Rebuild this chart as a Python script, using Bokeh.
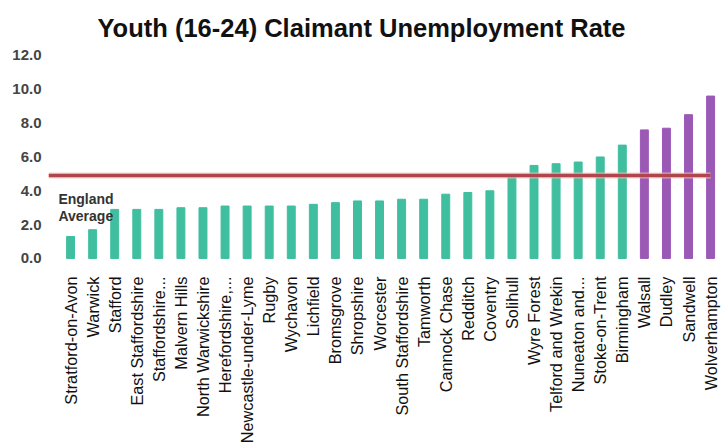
import math
from bokeh.plotting import figure
from bokeh.models import Range1d, FixedTicker, PrintfTickFormatter, Label, Title, ColumnDataSource
from bokeh.embed import file_html
from bokeh.resources import INLINE

areas = [
    "Stratford-on-Avon", "Warwick", "Stafford", "East Staffordshire", "Staffordshire...",
    "Malvern Hills", "North Warwickshire", "Herefordshire,...", "Newcastle-under-Lyme",
    "Rugby", "Wychavon", "Lichfield", "Bromsgrove", "Shropshire", "Worcester",
    "South Staffordshire", "Tamworth", "Cannock Chase", "Redditch", "Coventry",
    "Solihull", "Wyre Forest", "Telford and Wrekin", "Nuneaton and...", "Stoke-on-Trent",
    "Birmingham", "Walsall", "Dudley", "Sandwell", "Wolverhampton",
]
rates = [
    1.3, 1.7, 2.9, 2.9, 2.9,
    3.0, 3.0, 3.1, 3.1,
    3.1, 3.1, 3.2, 3.3, 3.4, 3.4,
    3.5, 3.5, 3.8, 3.9, 4.0,
    4.8, 5.5, 5.6, 5.7, 6.0,
    6.7, 7.6, 7.7, 8.5, 9.6,
]
black_country = ["Walsall", "Dudley", "Sandwell", "Wolverhampton"]
england_average = 4.9
y_ticks = [0, 2, 4, 6, 8, 10, 12]
title_text = "Youth (16-24) Claimant Unemployment Rate"

TEAL = "#3fbf9f"
PURPLE = "#9b59b6"
FONT = "Liberation Sans"

idx = list(range(len(areas)))
colors = [PURPLE if a in black_country else TEAL for a in areas]
src = ColumnDataSource(dict(x=idx, top=rates, color=colors))

p = figure(width=724, height=447, output_backend="svg", toolbar_location=None,
           x_range=Range1d(-1.0, len(areas) - 1 + 0.54), y_range=Range1d(-0.18, 12.53),
           min_border_left=48, min_border_right=2, min_border_top=46, min_border_bottom=186)
p.outline_line_color = None
p.background_fill_color = "white"
p.border_fill_color = "white"
p.xgrid.grid_line_color = None
p.ygrid.grid_line_color = None

p.vbar(x="x", top="top", bottom=0, width=0.36, color="color", source=src)

# England average line with faint halo
x0, x1 = -1.0, len(areas) - 1
p.line([x0, x1], [england_average, england_average], line_color="#eec4c4", line_width=6, line_alpha=0.7)
p.line([x0, x1], [england_average, england_average], line_color="#b0464b", line_width=3.5)

p.add_layout(Label(x=-0.55, y=england_average - 0.92, text="England\nAverage",
                   text_font=FONT, text_font_size="14px", text_font_style="bold",
                   text_color="#333333", text_baseline="top", text_align="left",
                   text_line_height=1.05))

t = Title(text=title_text, align="left", text_font=FONT, text_font_size="25.5px",
          text_font_style="bold", text_color="#111111", offset=49)
p.add_layout(t, "above")

p.yaxis.ticker = FixedTicker(ticks=y_ticks)
p.yaxis.formatter = PrintfTickFormatter(format="%.1f")
p.yaxis.axis_line_color = None
p.yaxis.major_tick_line_color = None
p.yaxis.minor_tick_line_color = None
p.yaxis.major_label_text_font = FONT
p.yaxis.major_label_text_font_size = "15px"
p.yaxis.major_label_text_font_style = "bold"
p.yaxis.major_label_text_color = "#444444"
p.yaxis.major_label_standoff = 1

p.xaxis.ticker = FixedTicker(ticks=idx)
p.xaxis.major_label_overrides = {i: a for i, a in enumerate(areas)}
p.xaxis.major_label_orientation = math.pi / 2
p.xaxis.axis_line_color = None
p.xaxis.major_tick_line_color = None
p.xaxis.minor_tick_line_color = None
p.xaxis.major_label_text_font = FONT
p.xaxis.major_label_text_font_size = "16.3px"
p.xaxis.major_label_text_color = "#111111"
p.xaxis.major_label_standoff = 9

open("out.html", "w").write(file_html(p, INLINE))
